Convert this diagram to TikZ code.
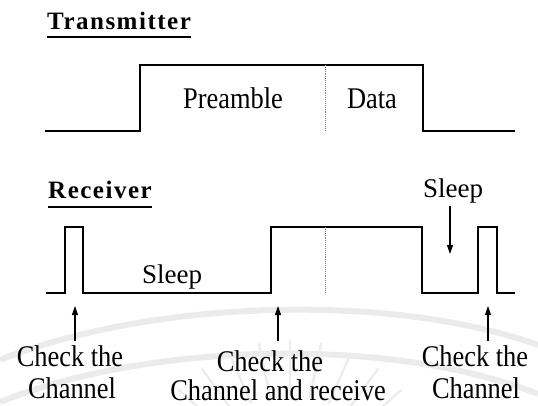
\documentclass[tikz,border=0pt]{standalone}
\usepackage{fontspec}
\setmainfont{Liberation Serif}
\newfontfamily\headfont[LetterSpace=6]{Liberation Serif Bold}
\newfontfamily\narrowfont[FakeStretch=0.88]{Liberation Serif}
\usetikzlibrary{arrows.meta}

\tikzset{
  wave/.style={line width=1.3pt, line join=miter},
  divider/.style={gray, line width=0.9pt, densely dotted},
  heading/.style={anchor=base west, inner sep=0pt, font=\headfont\fontsize{25}{28}\selectfont},
  label/.style={anchor=base, inner sep=0pt, font=\narrowfont\fontsize{30}{34}\selectfont},
  sleeplabel/.style={anchor=base, inner sep=0pt, font=\fontsize{27}{30}\selectfont},
  pointer/.style={line width=1.1pt, -{Triangle[length=9pt,width=6pt]}},
  mark line/.style={line width=1.1pt},
  watermark/.style={gray!16, line width=6pt},
  ray/.style={gray!14, line width=2.5pt}
}

\begin{document}
\begin{tikzpicture}[x=1pt, y=-1pt]
  \useasboundingbox (0,0) rectangle (538,406);

  % faint emblem in the background
  \draw[watermark] (0,360) .. controls (150,300) and (390,292) .. (538,345);
  \draw[watermark] (0,402) .. controls (150,342) and (390,336) .. (538,394);
  \coordinate (C) at (290,490);
  \foreach \a in {-150,-138,...,-30}
    \draw[ray, shift={(C)}] (\a:95) -- (\a:150);

  % ---------- transmitter ----------
  \node[heading] (tx) at (47,30) {Transmitter};
  \draw[mark line] ([yshift=-7pt]tx.base west) -- ([yshift=-7pt]tx.base east);

  \draw[wave] (45,131) -- (140,131) -- (140,65) -- (423,65) -- (423,131) -- (515,131);
  \draw[divider] (325,65) -- (325,131);
  \node[label] (pre) at (233,109) {Preamble};
  \node[label] (data) at (372,109) {Data};

  % ---------- receiver ----------
  \node[heading] (rx) at (48,199) {Receiver};
  \draw[mark line] ([yshift=-8pt]rx.base west) -- ([yshift=-8pt]rx.base east);

  \draw[wave] (46,293) -- (65,293) -- (65,227) -- (83,227) -- (83,293)
    -- (271,293) -- (271,227) -- (422,227) -- (422,293)
    -- (478,293) -- (478,227) -- (497,227) -- (497,293) -- (515,293);
  \draw[divider] (325,227) -- (325,293);

  \node[sleeplabel] (sleepA) at (172,283) {Sleep};
  \node[sleeplabel] (sleepB) at (453,198) {Sleep};
  \coordinate (sleepTip) at (450,254);
  \draw[pointer] ([xshift=-3pt,yshift=-8pt]sleepB.base) -- (sleepTip);

  % labels under the receiver line
  \node[label] (chk1a) at (70,366) {Check the};
  \node[label] (chk1b) at (72,398) {Channel};
  \node[label] (chk2a) at (270,371) {Check the};
  \node[label] (chk2b) at (278,400) {Channel and receive};
  \node[label] (chk3a) at (475,366) {Check the};
  \node[label] (chk3b) at (476,398) {Channel};

  \coordinate (t1) at (75,306);
  \coordinate (t2) at (278,306);
  \coordinate (t3) at (488,306);
  \coordinate (s1) at (75,341);
  \coordinate (s2) at (278,341);
  \coordinate (s3) at (488,341);
  \draw[pointer] (s1) -- (t1);
  \draw[pointer] (s2) -- (t2);
  \draw[pointer] (s3) -- (t3);
\end{tikzpicture}
\end{document}
